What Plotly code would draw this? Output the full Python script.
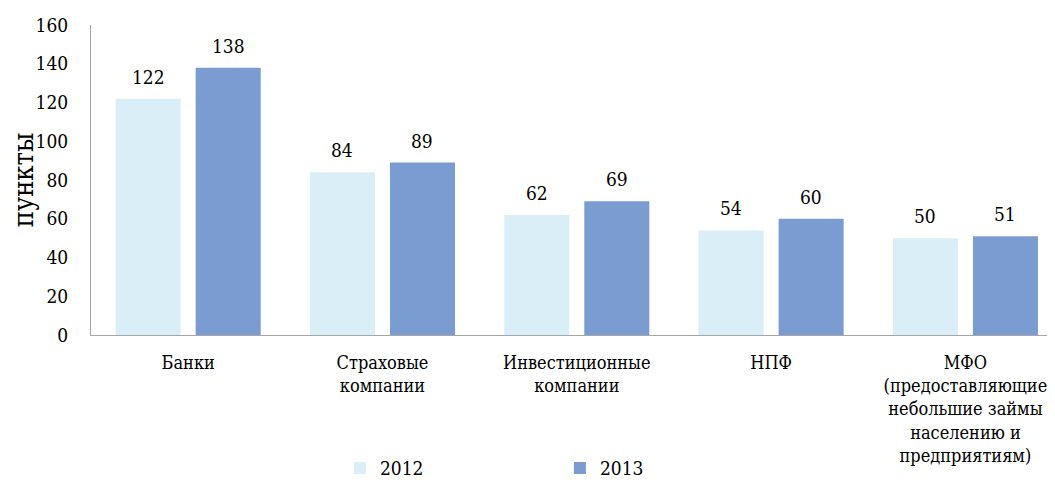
import plotly.graph_objects as go

categories = [
    "Банки",
    "Страховые<br>компании",
    "Инвестиционные<br>компании",
    "НПФ",
    "МФО<br>(предоставляющие<br>небольшие займы<br>населению и<br>предприятиям)",
]
years = ["2012", "2013"]
values_2012 = [122, 84, 62, 54, 50]
values_2013 = [138, 89, 69, 60, 51]
y_ticks = [0, 20, 40, 60, 80, 100, 120, 140, 160]

colors = {"2012": "#DAEEF8", "2013": "#7B9CD1"}
FONT = "DejaVu Serif Condensed, DejaVu Serif"

fig = go.Figure()
series = {"2012": values_2012, "2013": values_2013}
for yr in years:
    fig.add_trace(go.Bar(
        x=categories, y=series[yr], name=yr,
        marker=dict(color=colors[yr], line=dict(width=0)),
    ))

annotations = []
for yr, shift in (("2012", -40), ("2013", 40)):
    for c, v in zip(categories, series[yr]):
        annotations.append(dict(
            x=c, y=v, xref="x", yref="y", text=str(v), showarrow=False,
            xshift=shift, yshift=9, yanchor="bottom",
            font=dict(family=FONT, size=19, color="#000000"),
        ))

fig.update_layout(
    width=1047, height=472,
    margin=dict(l=83, r=0, t=17, b=145),
    paper_bgcolor="white", plot_bgcolor="white",
    font=dict(family=FONT, size=19, color="#000000"),
    barmode="group", bargap=0.176, bargroupgap=0.1875,
    showlegend=True,
    legend=dict(
        orientation="h", xref="container", yref="container",
        x=0.317, y=0.025, xanchor="left", yanchor="middle",
        font=dict(family=FONT, size=19),
        entrywidth=175, itemwidth=30,
        traceorder="normal",
    ),
    annotations=annotations,
)
fig.update_xaxes(
    range=[-0.5, 4.461], showline=True, linecolor="#A6A6A6", linewidth=1,
    showgrid=False, ticks="", tickfont=dict(family=FONT, size=18),
    ticklabelstandoff=11, automargin=False,
)
fig.update_yaxes(
    range=[0, 160], tickvals=y_ticks, showline=True, linecolor="#A6A6A6",
    linewidth=1, showgrid=False, zeroline=False, ticks="",
    tickfont=dict(family=FONT, size=19), ticklabelstandoff=18,
    title=dict(text="пункты", font=dict(family=FONT, size=27), standoff=8),
    automargin=False,
)

fig.write_html("out.html")
